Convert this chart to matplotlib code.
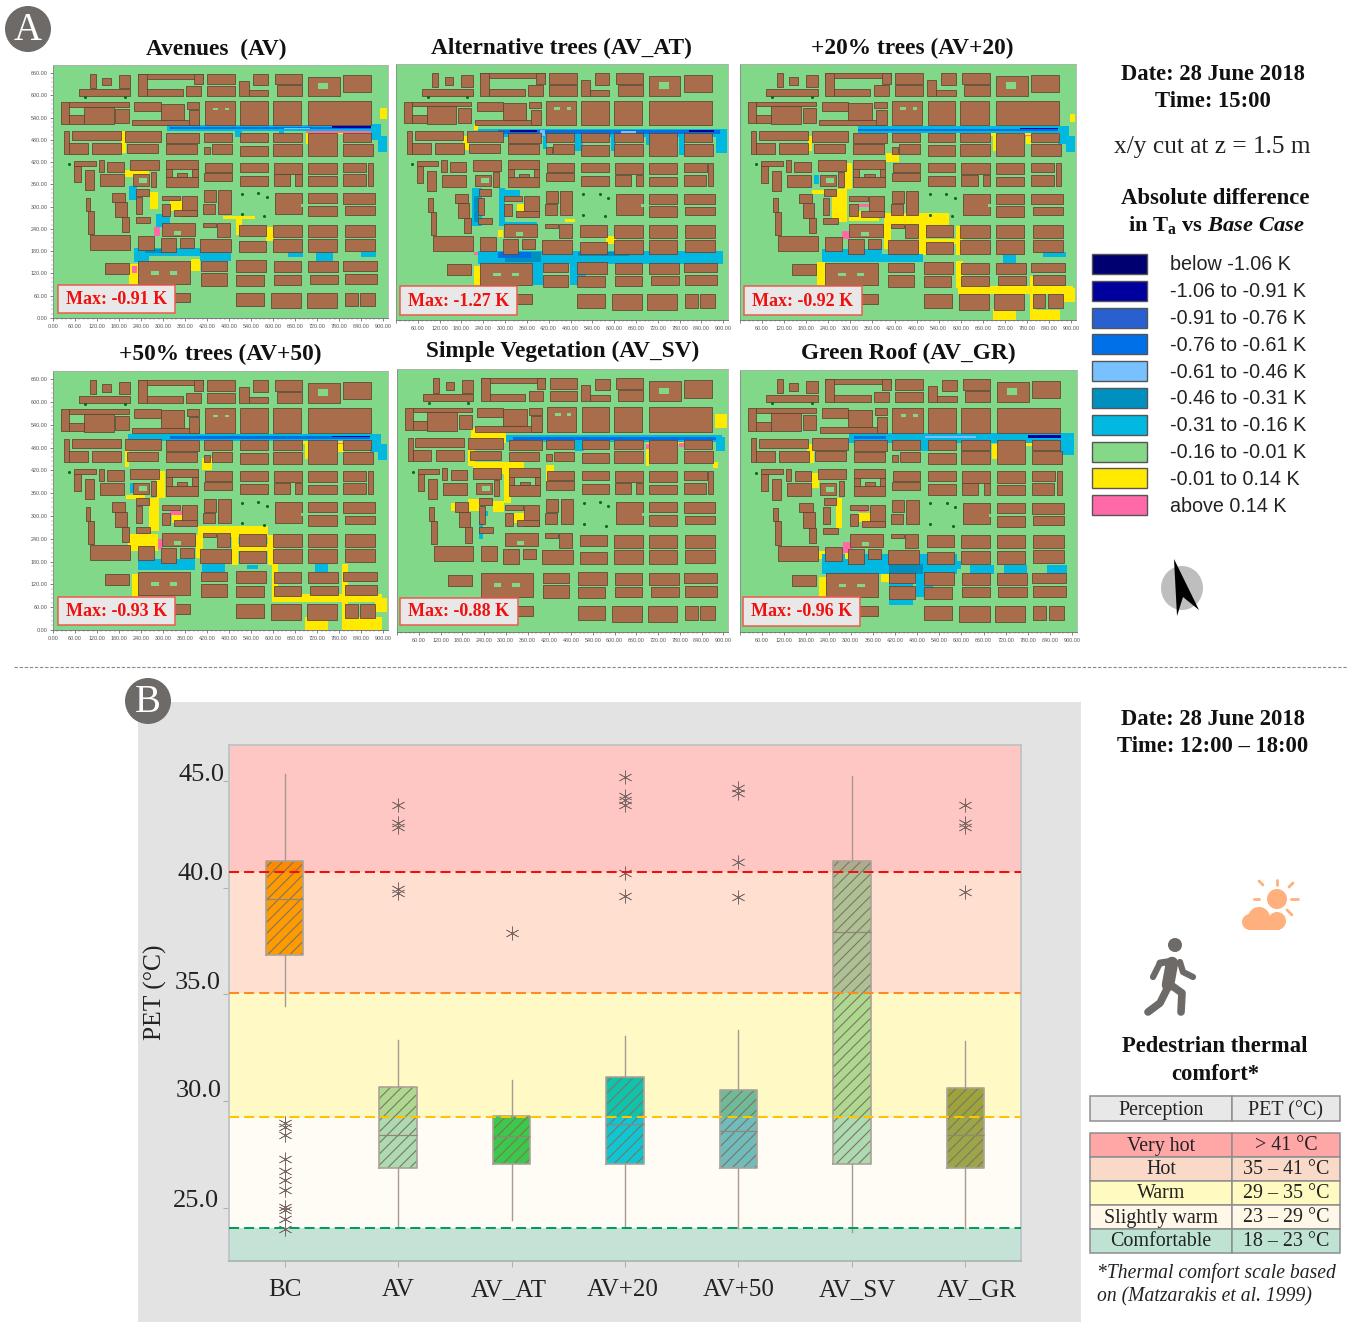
import matplotlib
matplotlib.use("Agg")
import matplotlib.pyplot as plt
from matplotlib.patches import Rectangle, Ellipse, Circle, Polygon
from matplotlib.transforms import ScaledTranslation
from matplotlib.colors import to_rgb

plt.rcParams['font.family'] = ['Liberation Serif', 'DejaVu Serif']
plt.rcParams['mathtext.fontset'] = 'custom'
plt.rcParams['mathtext.rm'] = 'Liberation Serif:bold'
plt.rcParams['mathtext.it'] = 'Liberation Serif:italic:bold'
plt.rcParams['hatch.linewidth'] = 0.8

W, H = 1351, 1322

# --- panel B values (PET, deg C)
cases = ["BC", "AV", "AV_AT", "AV+20", "AV+50", "AV_SV", "AV_GR"]
q1 = [36.83, 26.85, 27.05, 27.05, 26.85, 27.05, 26.85]
med = [39.46, 28.43, 28.37, 28.91, 28.58, 37.93, 28.43]
q3 = [41.28, 30.66, 29.29, 31.13, 30.51, 41.25, 30.61]
whis_lo = [34.48, 24.05, 24.43, 24.05, 24.05, 23.87, 24.05]
whis_hi = [45.36, 32.87, 30.97, 33.06, 33.34, 45.26, 32.83]
fliers = [
    [28.96, 28.77, 28.39, 27.27, 26.71, 26.28, 25.82, 25.02, 24.9, 24.46, 23.99],
    [43.88, 43.06, 42.85, 39.93, 39.78],
    [37.86],
    [45.2, 44.3, 44.11, 43.88, 40.7, 39.63],
    [44.7, 44.47, 41.2, 39.57],
    [],
    [43.88, 43.06, 42.85, 39.82],
]
box_colors = ["#FFB000", "#AEDDB8", "#3CCB4C", "#10C8DC", "#70BEC4", "#AEDDB8", "#9CA84C"]

band_edges = [46.7, 40.74, 35.05, 29.25, 24.05, 22.5]
band_colors = ["#FFC7C3", "#FFDFCF", "#FFF9C6", "#FFFCF5", "#C4E3D6"]
limit_values = [40.74, 35.05, 29.25, 24.05]
limit_colors = ["#F01010", "#FF8A1E", "#FFC400", "#009E5A"]
y_ticks = [25, 30, 35, 40, 45]
y_tick_shift = [(-3, 9), (0, 13), (-1, 14), (1, 16), (2, 9)]
x_label_shift = [0, 0, -3, -2, 0, 5, 11]

# --- comfort table
perception = ["Very hot", "Hot", "Warm", "Slightly warm", "Comfortable"]
pet_ranges = ["> 41 °C", "35 – 41 °C", "29 – 35 °C", "23 – 29 °C", "18 – 23 °C"]
table_colors = ["#FFA6A6", "#F9D9C8", "#FFFAC0", "#FFF8E8", "#BFE3D3"]

# --- legend of the maps
legend_labels = ["below -1.06 K", "-1.06 to -0.91 K", "-0.91 to -0.76 K", "-0.76 to -0.61 K",
                 "-0.61 to -0.46 K", "-0.46 to -0.31 K", "-0.31 to -0.16 K", "-0.16 to -0.01 K",
                 "-0.01 to 0.14 K", "above 0.14 K"]
legend_colors = ["#000070", "#00009C", "#2860D0", "#0070E8", "#78C0FF",
                 "#0090C0", "#00B8E0", "#84D888", "#FFEA00", "#FF69A8"]
GROUND = "#80D888"
D, B, M, L, T, C, Y, P = "#00009C", "#0070E8", "#2860D0", "#78C0FF", "#0090C0", "#00B8E0", "#FFEA00", "#FF69A8"

# --- buildings (x0, x1, y0, y1 in metres)
buildings = [
    # row 1
    (71, 211, 598, 616), (100, 116, 621, 659), (134, 157, 627, 648), (180, 211, 621, 654),
    (231, 409, 645, 659), (231, 256, 598, 659), (256, 354, 598, 616), (363, 404, 598, 625), (385, 409, 630, 659),
    (421, 497, 630, 659), (421, 497, 598, 625), (508, 533, 598, 640), (533, 587, 598, 614), (546, 587, 627, 657),
    (604, 678, 630, 659), (610, 678, 598, 627), (696, 782, 598, 650), (791, 868, 608, 654),
    # row 2
    (23, 44, 524, 582), (44, 206, 570, 582), (84, 166, 522, 570), (44, 84, 524, 546), (170, 206, 526, 564),
    (216, 397, 519, 533), (222, 293, 558, 582), (293, 358, 533, 578), (365, 399, 564, 582), (370, 399, 519, 560),
    (413, 495, 519, 584), (510, 585, 519, 584), (599, 676, 519, 584), (696, 868, 519, 584),
    # row 3
    (30, 43, 443, 504), (51, 184, 479, 503), (43, 95, 443, 472), (107, 186, 443, 472),
    (195, 293, 474, 504), (202, 286, 445, 470), (308, 399, 472, 499), (308, 392, 443, 468),
    (412, 489, 474, 499), (433, 489, 443, 468), (412, 428, 443, 462),
    (510, 585, 474, 499), (510, 585, 438, 465), (599, 678, 474, 499), (599, 678, 438, 470),
    (696, 773, 438, 499), (791, 868, 474, 499), (791, 872, 438, 470),
    # row 4
    (57, 116, 410, 423), (57, 75, 366, 410), (86, 111, 344, 398), (125, 139, 393, 425), (148, 193, 393, 420),
    (127, 193, 355, 387), (211, 288, 398, 425), (218, 261, 357, 387), (267, 282, 353, 393),
    (308, 394, 402, 425), (308, 394, 353, 380), (308, 324, 380, 402), (380, 394, 380, 402), (338, 366, 380, 390),
    (415, 489, 393, 418), (412, 489, 369, 391), (510, 585, 393, 418), (510, 585, 357, 384),
    (601, 678, 389, 418), (601, 646, 357, 387), (660, 678, 357, 387), (696, 773, 389, 418), (696, 773, 357, 382),
    (791, 854, 393, 418), (791, 852, 357, 387), (859, 872, 357, 418),
    # row 5
    (89, 102, 288, 324), (95, 111, 227, 288), (161, 197, 312, 337), (170, 202, 272, 312), (188, 206, 231, 272),
    (227, 261, 330, 348), (225, 243, 281, 326), (297, 347, 317, 330), (297, 320, 276, 308), (351, 392, 276, 330),
    (330, 392, 274, 290), (412, 445, 312, 344), (409, 442, 281, 308), (451, 485, 281, 344),
    (605, 678, 281, 337), (696, 773, 310, 337), (696, 773, 274, 303), (791, 877, 308, 337), (795, 877, 279, 301),
    # row 6
    (102, 211, 184, 224), (225, 265, 256, 272), (231, 276, 184, 222), (297, 388, 222, 256), (293, 336, 177, 216),
    (347, 383, 189, 216), (409, 445, 245, 256), (448, 483, 218, 256), (401, 485, 177, 213),
    (506, 580, 222, 252), (506, 580, 177, 207), (599, 678, 218, 252), (599, 678, 177, 212),
    (696, 773, 218, 252), (696, 773, 177, 212), (795, 877, 218, 252), (795, 877, 180, 213),
    # row 7
    (141, 207, 119, 148), (232, 374, 92, 153), (403, 474, 128, 153), (403, 474, 87, 121),
    (499, 580, 123, 155), (499, 574, 87, 116), (601, 676, 123, 153), (601, 676, 90, 117),
    (696, 777, 123, 153), (700, 777, 92, 117), (791, 882, 128, 153), (795, 882, 92, 119),
    # row 8
    (302, 374, 42, 68), (499, 575, 32, 68), (594, 676, 27, 68), (691, 773, 27, 68), (795, 830, 32, 68), (836, 877, 32, 68),
]
courtyards = [(435, 451, 560, 567), (469, 481, 560, 567), (267, 288, 117, 126), (318, 338, 117, 126),
              (723, 750, 616, 634), (675, 690, 300, 308), (330, 350, 225, 235), (234, 256, 365, 378)]
trees_x = [43, 515, 560, 583, 515, 576, 88, 195]
trees_y = [415, 335, 337, 326, 281, 276, 595, 595]

# --- temperature difference patches per scenario (colour, x0, x1, y0, y1)
zones_av = [
    (C, 310, 872, 504, 519), (C, 495, 515, 488, 510), (C, 615, 630, 492, 510), (C, 865, 895, 480, 522), (C, 885, 910, 448, 490),
    (B, 320, 868, 510, 516), (D, 760, 868, 512, 517), (L, 630, 700, 510, 513), (Y, 890, 910, 537, 565),
    (Y, 186, 200, 445, 505), (Y, 195, 262, 380, 398), (Y, 265, 285, 295, 340), (Y, 320, 376, 288, 315),
    (Y, 462, 550, 266, 274), (Y, 500, 516, 225, 266), (Y, 580, 602, 207, 245), (Y, 206, 231, 92, 146),
    (Y, 376, 401, 128, 160), (Y, 690, 700, 470, 503), (Y, 700, 868, 497, 504),
    (P, 215, 230, 120, 140), (P, 320, 345, 315, 320), (P, 275, 292, 220, 245), (P, 690, 868, 499, 503),
    (C, 206, 229, 317, 357), (C, 280, 320, 245, 280), (C, 220, 262, 152, 190), (C, 262, 480, 168, 190),
    (T, 250, 310, 175, 185), (C, 400, 485, 155, 177), (C, 640, 680, 165, 177), (C, 718, 763, 155, 177), (C, 840, 880, 165, 177),
]
zones_at = [
    (C, 225, 880, 487, 510), (C, 880, 910, 445, 510), (B, 280, 890, 495, 506), (D, 314, 387, 500, 507), (D, 805, 874, 500, 507),
    (L, 395, 410, 490, 505), (L, 620, 660, 496, 503), (C, 491, 514, 449, 487), (C, 590, 605, 449, 487), (C, 778, 796, 440, 487),
    (C, 687, 700, 465, 487), (C, 405, 414, 455, 487), (C, 209, 237, 251, 352), (T, 214, 228, 260, 330),
    (C, 282, 300, 251, 352), (C, 300, 387, 251, 260), (C, 300, 340, 330, 345), (C, 225, 900, 150, 185), (T, 300, 400, 155, 180),
    (B, 280, 370, 165, 180), (C, 378, 405, 92, 150), (C, 478, 523, 92, 150), (T, 500, 640, 170, 180),
    (Y, 185, 200, 453, 490), (Y, 214, 225, 505, 523), (Y, 332, 382, 286, 308), (Y, 578, 605, 202, 224),
    (Y, 214, 234, 92, 145), (Y, 464, 491, 261, 268), (Y, 280, 295, 220, 240), (P, 214, 225, 172, 180),
]
zones_20 = [
    (C, 320, 890, 497, 516), (B, 320, 868, 503, 510), (D, 760, 868, 508, 512), (C, 865, 895, 470, 516), (C, 885, 910, 448, 490),
    (Y, 630, 870, 490, 497), (P, 740, 870, 488, 492), (Y, 185, 197, 449, 490), (Y, 687, 700, 449, 490), (Y, 778, 792, 470, 490),
    (Y, 250, 291, 260, 348), (Y, 282, 305, 348, 418), (Y, 391, 568, 251, 286), (Y, 391, 409, 190, 251), (Y, 487, 505, 172, 251),
    (Y, 587, 605, 172, 251), (Y, 501, 605, 202, 216), (Y, 396, 432, 422, 444), (Y, 296, 378, 264, 290), (P, 314, 378, 302, 310),
    (P, 278, 300, 215, 238), (Y, 587, 605, 84, 158), (Y, 592, 905, 70, 90), (Y, 787, 805, 0, 118), (Y, 687, 750, 0, 30),
    (Y, 787, 869, 0, 26), (Y, 878, 910, 48, 84), (Y, 209, 232, 92, 154), (Y, 896, 910, 528, 550), (Y, 195, 240, 335, 345),
    (C, 223, 387, 154, 190), (C, 387, 496, 154, 176), (C, 714, 750, 152, 172), (C, 824, 887, 169, 180), (C, 200, 214, 361, 387),
]
zones_50 = [
    (C, 205, 890, 497, 516), (B, 320, 868, 503, 510), (D, 760, 868, 508, 512), (C, 865, 895, 470, 516), (C, 885, 910, 448, 490),
    (Y, 630, 870, 490, 497), (P, 700, 870, 488, 492), (Y, 195, 207, 430, 490), (Y, 687, 700, 449, 490), (Y, 778, 792, 470, 490),
    (Y, 262, 288, 260, 348), (Y, 282, 305, 348, 418), (Y, 396, 587, 244, 274), (Y, 391, 409, 190, 251), (Y, 487, 505, 172, 251),
    (Y, 587, 605, 172, 251), (Y, 505, 605, 209, 226), (Y, 405, 432, 422, 452), (Y, 323, 382, 283, 304), (P, 319, 382, 304, 313),
    (P, 282, 300, 213, 239), (Y, 205, 287, 209, 252), (Y, 596, 614, 96, 174), (Y, 596, 896, 74, 96), (Y, 787, 805, 0, 174),
    (Y, 687, 750, 0, 35), (Y, 792, 896, 0, 35), (Y, 214, 232, 87, 148), (Y, 200, 250, 345, 355), (Y, 878, 910, 48, 84),
    (C, 232, 387, 157, 187), (C, 405, 469, 152, 174), (C, 714, 750, 152, 174), (C, 530, 560, 160, 172), (C, 210, 225, 362, 387),
]
zones_sv = [
    (Y, 205, 300, 490, 530), (Y, 296, 332, 520, 530), (Y, 196, 214, 430, 500), (Y, 209, 350, 410, 440), (Y, 296, 314, 335, 440),
    (Y, 265, 295, 310, 340), (Y, 196, 228, 315, 345), (Y, 150, 165, 315, 335), (Y, 323, 382, 283, 309), (Y, 410, 432, 390, 432),
    (Y, 687, 696, 430, 490), (Y, 696, 869, 488, 500), (Y, 878, 910, 530, 565), (Y, 872, 885, 425, 440), (P, 687, 696, 475, 488), (P, 778, 792, 480, 490),
    (C, 300, 896, 492, 512), (C, 490, 515, 470, 512), (B, 320, 880, 497, 505), (C, 880, 905, 470, 505),
    (C, 227, 236, 240, 300), (C, 225, 250, 300, 315),
]
zones_gr = [
    (C, 296, 896, 493, 517), (C, 491, 514, 470, 493), (C, 865, 905, 460, 517), (B, 310, 395, 503, 510), (D, 780, 870, 505, 512), (L, 500, 640, 505, 510),
    (Y, 182, 200, 440, 490), (Y, 683, 700, 450, 490), (Y, 700, 860, 485, 493), (Y, 196, 214, 375, 415), (Y, 259, 277, 270, 350),
    (Y, 319, 378, 287, 309), (P, 278, 305, 205, 235), (P, 320, 345, 312, 320), (Y, 214, 232, 91, 143), (Y, 382, 405, 130, 152), (Y, 210, 240, 190, 210),
    (C, 223, 587, 152, 204), (T, 405, 496, 152, 178), (C, 405, 469, 70, 152), (C, 478, 523, 91, 152), (C, 623, 687, 152, 174),
    (C, 714, 777, 152, 174), (C, 833, 887, 152, 174), (C, 587, 600, 165, 185), (Y, 285, 300, 190, 205),
]

titles = ["Avenues  (AV)", "Alternative trees (AV_AT)", "+20% trees (AV+20)",
          "+50% trees (AV+50)", "Simple Vegetation (AV_SV)", "Green Roof (AV_GR)"]
max_labels = ["Max: -0.91 K", "Max: -1.27 K", "Max: -0.92 K", "Max: -0.93 K", "Max: -0.88 K", "Max: -0.96 K"]
all_zones = [zones_av, zones_at, zones_20, zones_50, zones_sv, zones_gr]
map_rects = [(53, 65, 388, 318), (396, 64, 728, 320), (740, 64, 1076, 320),
             (53, 371, 388, 630), (397, 369, 728, 632), (740, 370, 1077, 632)]
title_pos = [(216, 48), (561, 47), (912, 47), (220, 353), (563, 350), (908, 352)]
max_box = [(58, 285, 175, 313), (400, 286, 517, 315), (744, 286, 862, 315),
           (58, 597, 175, 625), (400, 598, 518, 625), (743, 597, 860, 626)]


def ax_px(fig, left, top, right, bottom, **kw):
    return fig.add_axes([left / W, 1 - bottom / H, (right - left) / W, (bottom - top) / H], **kw)


def draw_map(ax, zones, with_y, first_x):
    ax.set_facecolor(GROUND)
    ax.set_xlim(0, 913)
    ax.set_ylim(0, 682)
    for col, x0, x1, y0, y1 in zones:
        ax.bar(x0, y1 - y0, width=x1 - x0, bottom=y0, align='edge', color=col, linewidth=0, zorder=2)
    for x0, x1, y0, y1 in buildings:
        ax.bar(x0, y1 - y0, width=x1 - x0, bottom=y0, align='edge', color="#A96D4B",
               edgecolor="#5A4232", linewidth=0.55, zorder=3)
    for x0, x1, y0, y1 in courtyards:
        ax.bar(x0, y1 - y0, width=x1 - x0, bottom=y0, align='edge', color=GROUND, linewidth=0, zorder=4)
    ax.scatter(trees_x, trees_y, s=5, color="#0A6A20", linewidth=0, zorder=4)
    xt = list(range(0, 901, 60))
    ax.set_xticks(xt)
    ax.set_xticklabels(["%.2f" % v if v >= first_x else "" for v in xt], fontsize=3.9,
                       family=['Liberation Sans'], color="#555555")
    ax.set_xticks(range(0, 901, 12), minor=True)
    if with_y:
        yt = list(range(0, 661, 60))
        ax.set_yticks(yt)
        ax.set_yticklabels(["%.2f" % v for v in yt], fontsize=3.9, family=['Liberation Sans'], color="#555555")
        ax.set_yticks(range(0, 661, 12), minor=True)
    else:
        ax.set_yticks([])
    ax.tick_params(length=2.5, width=0.5, color="#555555", pad=1.5)
    ax.tick_params(which='minor', length=1.2, width=0.3, color="#777777")
    for s in ax.spines.values():
        s.set_linewidth(0.6)
        s.set_color("#B0B0B0")
    ax.spines['bottom'].set_color("#666666")
    ax.spines['left'].set_color("#888888")


def draw_boxes(ax):
    pos = list(range(1, len(cases) + 1))
    ax.set_xlim(0.51, 7.49)
    ax.set_ylim(22.5, 46.7)
    for i in range(len(band_colors)):
        ax.axhspan(band_edges[i + 1], band_edges[i], color=band_colors[i], linewidth=0, zorder=1)
    # box colour is multiplied with the comfort band behind it
    for p, lo, hi, col in zip(pos, q1, q3, box_colors):
        base = to_rgb(col)
        for i in range(len(band_colors)):
            seg_lo = max(lo, band_edges[i + 1])
            seg_hi = min(hi, band_edges[i])
            if seg_hi <= seg_lo:
                continue
            band = to_rgb(band_colors[i])
            face = tuple(a * b for a, b in zip(base, band))
            ax.bar(p, seg_hi - seg_lo, width=0.33, bottom=seg_lo, color=face, edgecolor="#7E7466",
                   hatch="///", linewidth=0, zorder=2)
    stats = []
    for i, name in enumerate(cases):
        stats.append(dict(label=name, med=med[i], q1=q1[i], q3=q3[i],
                          whislo=whis_lo[i], whishi=whis_hi[i], fliers=fliers[i]))
    ax.bxp(stats, positions=pos, widths=0.33, showcaps=False, manage_ticks=False, zorder=3,
           boxprops=dict(color="#ABA298", linewidth=1.2),
           medianprops=dict(color="#938578", linewidth=0.9),
           whiskerprops=dict(color="#A8988E", linewidth=1.0),
           flierprops=dict(marker=(6, 2, 0), markersize=10, markeredgewidth=0.5,
                           markeredgecolor="#7A6866", markerfacecolor="none"))
    for v, col in zip(limit_values, limit_colors):
        ax.axhline(v, color=col, linewidth=1.45, dashes=(5, 2.5), zorder=4)

    ax.set_xticks(pos)
    ax.set_xticklabels(cases, fontsize=18, color="#222222")
    ax.set_yticks(y_ticks)
    ax.set_yticklabels(["%.1f" % v for v in y_ticks], fontsize=19, color="#222222")
    ax.tick_params(axis='both', length=4, width=0.8, color="#B0B0B0")
    ax.tick_params(axis='x', pad=9)
    ax.tick_params(axis='y', pad=1)
    for lab, dx in zip(ax.get_xticklabels(), x_label_shift):
        lab.set_transform(lab.get_transform() + ScaledTranslation(dx / 100, 0, ax.figure.dpi_scale_trans))
    for lab, (dx, dy) in zip(ax.get_yticklabels(), y_tick_shift):
        lab.set_transform(lab.get_transform() + ScaledTranslation(dx / 100, dy / 100, ax.figure.dpi_scale_trans))
    for s in ax.spines.values():
        s.set_linewidth(1.3)
        s.set_color("#BCC4C6")
    ax.spines['bottom'].set_color("#A8B8B0")


fig = plt.figure(figsize=(W / 100, H / 100), dpi=100)

back = ax_px(fig, 0, 0, W, H, zorder=0)
back.set_xlim(0, W)
back.set_ylim(H, 0)
back.axis('off')
back.add_patch(Rectangle((138, 702), 943, 620, color="#E3E3E3", linewidth=0))
back.plot([14, 1347], [667, 667], color="#8A8A8A", linewidth=0.8, dashes=(3, 1.6))

for k in range(6):
    l, t, r, b = map_rects[k]
    m = ax_px(fig, l, t, r, b, zorder=1)
    draw_map(m, all_zones[k], k in (0, 3), 0 if k in (0, 3) else 60)

pet_ax = ax_px(fig, 229, 745, 1021, 1261, zorder=1)
draw_boxes(pet_ax)

top = ax_px(fig, 0, 0, W, H, zorder=5)
top.set_xlim(0, W)
top.set_ylim(H, 0)
top.axis('off')
top.patch.set_alpha(0)


def txt(x, y, s, size, bold=False, ital=False, ha='center', color="#111111", **kw):
    # +1.5: the text sat a little high with va=center
    top.text(x, y + 1.5, s, fontsize=size, fontweight='bold' if bold else 'normal',
             fontstyle='italic' if ital else 'normal', ha=ha, va='center', color=color, **kw)


for k in range(6):
    txt(title_pos[k][0], title_pos[k][1], titles[k], 16.8, bold=True)
    x0, y0, x1, y1 = max_box[k]
    top.add_patch(Rectangle((x0, y0), x1 - x0, y1 - y0, facecolor="#E8E8E8", edgecolor="#EE5A50", linewidth=1.1))
    txt((x0 + x1) / 2, (y0 + y1) / 2 - 1, max_labels[k], 13, bold=True, color="#F01010")

# section badges
for cx, cy, s in [(28, 29, "A"), (148, 701, "B")]:
    top.add_patch(Circle((cx, cy), 23, color="#6E6A68", linewidth=0))
    txt(cx, cy, s, 28, color="white")

# right column, top
txt(1213, 73, "Date: 28 June 2018", 16.3, bold=True)
txt(1213, 100, "Time: 15:00", 16.3, bold=True)
txt(1212, 145, "x/y cut at z = 1.5 m", 18.3, color="#222222")
txt(1215, 197, "Absolute difference", 16.4, bold=True)
txt(1216, 224, r"in T$_{\mathrm{a}}$ vs $\mathit{Base\ Case}$", 16.2, bold=True)

for i in range(len(legend_labels)):
    yc = 264 + i * 26.8
    top.add_patch(Rectangle((1092, yc - 10), 55, 20, facecolor=legend_colors[i], edgecolor="#555555", linewidth=1.0))
    top.text(1170, yc + 1, legend_labels[i], fontsize=14.2, family=['Liberation Sans'], va='center', color="#222222")

# north arrow
top.add_patch(Ellipse((1182, 588), 42, 44, color="#BEBEBE", linewidth=0))
top.add_patch(Polygon([(1174, 559), (1199, 610), (1183, 597), (1177, 616)], color="black", linewidth=0))

# right column, bottom
txt(1213, 718, "Date: 28 June 2018", 16.3, bold=True)
txt(1213, 745, "Time: 12:00 – 18:00", 16.3, bold=True)
txt(155, 991, "PET (°C)", 18.4, rotation=90, color="#222222")

# sun and cloud
sun = "#FFB07C"
top.add_patch(Circle((1277, 899), 10, color=sun, linewidth=0))
for a, b_, c, d in [(1277, 880, 1277, 885), (1259, 899, 1254, 899), (1289, 887, 1293, 883),
                    (1263, 885, 1259, 881), (1291, 899, 1298, 899), (1287, 910, 1292, 915)]:
    top.plot([a, c], [b_, d], color=sun, linewidth=2, solid_capstyle='round')
top.add_patch(Circle((1258, 918), 13, color="white", linewidth=0))
for cx, cy, r in [(1250, 922, 8), (1259, 918, 11), (1277, 921, 9)]:
    top.add_patch(Circle((cx, cy), r, color=sun, linewidth=0))
top.add_patch(Rectangle((1250, 920), 30, 10, color=sun, linewidth=0))

# walker
grey = "#6E6A68"
top.add_patch(Circle((1175, 945), 7, color=grey, linewidth=0))
for xs, ys, lw in [([1172, 1168], [963, 985], 9), ([1160, 1153], [963, 977], 4.5), ([1160, 1173], [963, 961], 5),
                   ([1180, 1183, 1193], [962, 972, 977], 4.5), ([1168, 1160, 1148], [987, 1003, 1012], 5.5),
                   ([1168, 1182, 1181], [983, 993, 1012], 5.5)]:
    top.plot(xs, ys, color=grey, linewidth=lw, solid_capstyle='round', solid_joinstyle='round')

txt(1215, 1045, "Pedestrian thermal", 16.3, bold=True)
txt(1215, 1073, "comfort*", 16.3, bold=True)

# comfort table
edge = "#8E8E8E"
top.add_patch(Rectangle((1090, 1096), 142, 25, facecolor="#E8E8E8", edgecolor=edge, linewidth=1.1))
top.add_patch(Rectangle((1232, 1096), 108, 25, facecolor="#E8E8E8", edgecolor=edge, linewidth=1.1))
txt(1161, 1109, "Perception", 14.4, color="#222222")
txt(1286, 1109, "PET (°C)", 14.4, color="#222222")
for i in range(len(perception)):
    y0 = 1133 + i * 24
    top.add_patch(Rectangle((1090, y0), 142, 24, facecolor=table_colors[i], edgecolor=edge, linewidth=1.1))
    top.add_patch(Rectangle((1232, y0), 108, 24, facecolor=table_colors[i], edgecolor=edge, linewidth=1.1))
    txt(1161, y0 + 11.5, perception[i], 14.4, color="#222222")
    txt(1286, y0 + 11.5, pet_ranges[i], 14.4, color="#222222")

txt(1097, 1272, "*Thermal comfort scale based", 14.1, ital=True, ha='left', color="#222222")
txt(1097, 1295, "on (Matzarakis et al. 1999)", 14.1, ital=True, ha='left', color="#222222")

fig.savefig("out.png", dpi=100)
